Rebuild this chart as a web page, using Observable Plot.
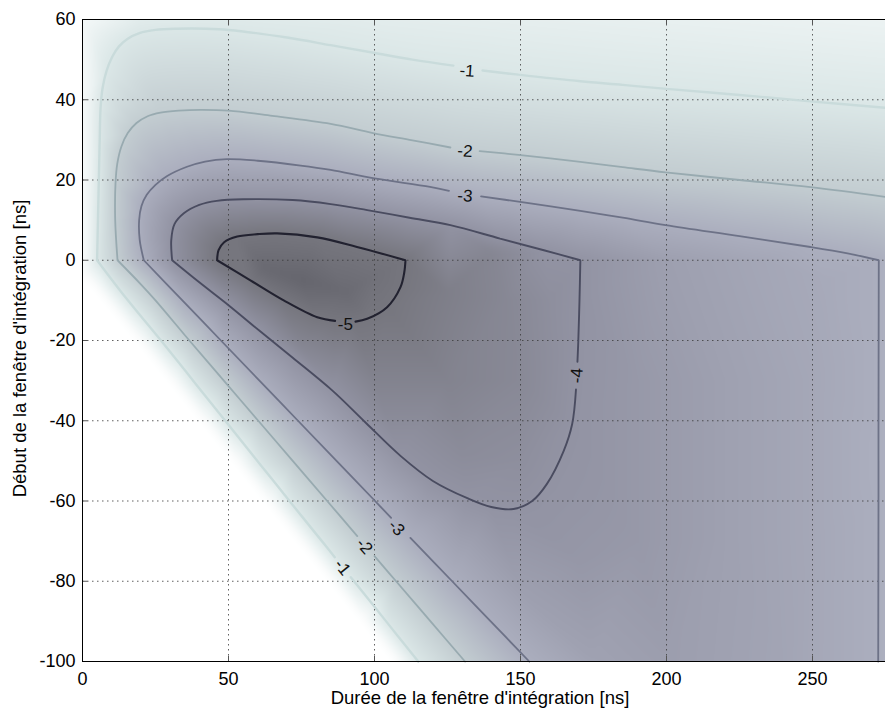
<!DOCTYPE html>
<html><head><meta charset="utf-8">
<script src="https://cdn.jsdelivr.net/npm/d3@7"></script>
<script src="https://cdn.jsdelivr.net/npm/@observablehq/plot@0.6"></script>
<style>body{margin:0;background:#fff}</style>
</head><body><div id="chart"></div>
<script>
// Axis ticks
const xTicks = [0, 50, 100, 150, 200, 250];
const yTicks = [-100, -80, -60, -40, -20, 0, 20, 40, 60];

// Contour levels and their traced paths [durée, début]; null = gap for inline label,
// a repeated point marks a sharp corner
const levels = [-1, -2, -3, -4, -5];
const c1 = [[115,-100],[104,-90],[91.9,-79],null,[86.4,-74],[82,-70],[72,-61],[61,-51],[50,-41],[39,-31],[28,-21],[15,-9.5],[5,0],[5,0],
  [5.3,10],[5.6,20],[5.9,30],[6.2,38],[6.9,43],[8.3,47.3],[10.2,50.7],[12.5,53.3],[15.5,55.2],[19.5,56.6],[25,57.4],[32.5,57.7],[42,57.7],[50,57.4],
  [70,55.5],[85,53.6],[99.7,51.7],[113,50],[127,48.5],null,[137,47.3],[149.3,46.25],[170.5,44.6],[185,43.7],[200,42.7],[225,41.2],[249.3,39.6],[275,38]];
const c2 = [[131,-100],[119.2,-90],[107.4,-80],[100,-73.75],null,[94.1,-68.75],[83.8,-60],[72,-50],[60.2,-40],[48.4,-30],[36.6,-20],[25,-10],[20,-6],[12,0],[12,0],
  [11.2,10],[11.3,19],[11.9,24],[13.3,28.3],[15.5,31.7],[18.5,34.2],[22.3,35.9],[26.7,36.8],[33,37.3],[40.4,37.5],[50,37.3],[65,36],[85,34],[99.5,31.7],[113,29.9],[126,28.1],null,
  [136,27.2],[149.3,26.25],[170.5,24.5],[185,23.2],[199.7,21.9],[225,20],[249.3,18.2],[275,15.8]];
const c3 = [[153,-100],[139.8,-90],[126.6,-80],[112.3,-69.2],null,[105.7,-64.2],[100.2,-60],[87,-50],[73.8,-40],[60.6,-30],[47.4,-20],[34.2,-10],[21,0],[21,0],
  [19.6,5],[19.4,10],[20.2,13.5],[22,16.3],[25,18.8],[29,21],[35.8,23.3],[42,24.6],[49.5,25.2],[60,24.8],[74.7,23.6],[85,22.5],[100,20.4],[119,18.3],[125.5,17.3],null,
  [136.5,15.9],[149.3,14.6],[170.5,12.3],[185,10.6],[199.7,8.75],[225,6],[249.3,3.3],[262,1.7],[272.7,0],[272.7,0],
  [272.65,-20],[272.6,-40],[272.6,-60],[272.55,-80],[272.5,-100]];
const c4 = [[30.7,0],[30.4,5],[31.5,9],[34.7,11.7],[40,13.8],[46,14.8],[55,15.2],[72,15],[85,14],[97.5,12.5],[112,10.6],[126,8.75],[143,5.4],[158,2.5],[170.5,0],[170.5,0],
  [170.2,-10],[169.8,-20],[169.5,-25.3],null,[169,-32.2],[167.7,-40.8],[164.8,-47.5],[159,-55.8],[154,-60],[147.6,-62],[140,-61.5],[131.8,-59.3],[120,-55],
  [108.9,-48.75],[97,-40.5],[85.6,-32.5],[72,-24.3],[60,-17.2],[50,-11.2],[40,-5.5],[30.7,0]];
const c5 = [[46.1,0],[46.6,2.5],[48.5,4.5],[53,5.9],[60,6.5],[66.7,6.7],[80.4,5.7],[94,3.3],[110.6,0],[110.6,0],[110.2,-3],[108.9,-6.7],[104.3,-11.7],[97.5,-14.6],[93.5,-15.3],null,
  [86.5,-15.1],[80.4,-14.2],[68.9,-10],[57.5,-5],[46.1,0]];

// Extra read-off samples of the shaded field [durée, début, valeur]
const whiteZone = [[0,-4,0],[7,-9.5,0],[20,-21,0],[31,-31,0],[42,-41,0],[53,-51,0],[64,-61,0],[74,-70,0],[85,-80,0],[96,-90,0],[107,-100,0],
  [0,-100,0],[0,-50,0],[50,-100,0],[30,-70,0]];
const topLeftZone = [[0,0,-0.1],[0,20,-0.15],[0,40,-0.2],[0,60,-0.3],[20,60,-0.82],[50,60,-0.9],[100,60,-0.8],[150,60,-0.72],[200,60,-0.65],[275,60,-0.55]];
const coreZone = [[62,-2,-5.5],[75,-5,-5.65],[90,-8,-5.45],[100,-4,-5.2],
  [75,-22,-4.4],[100,-30,-4.55],[125,-30,-4.55],[150,-30,-4.35],[130,-48,-4.25],[150,-50,-4.15],[125,-8,-4.7],[145,-10,-4.4],[160,-10,-4.15],[140,2,-4.45]];
const rightZone = [[190,-30,-3.8],[220,-30,-3.5],[250,-30,-3.25],[190,-70,-3.8],[220,-70,-3.5],[250,-70,-3.25],[175,-100,-3.45],[200,-100,-3.6],[240,-100,-3.35],
  [150,-82,-3.55],[170,-75,-3.85],[200,0,-3.55],[230,0,-3.3],[255,-5,-3.15],[275,0,-2.9],[275,-50,-2.95],[275,-100,-2.95]];

// Colour ramp (value -> colour)
const colorStops = [-5.7, -5, -4, -3, -2, -1, -0.5, 0];
const colorRange = ["#64646c", "#76767e", "#9293a3", "#abaebe", "#c3cdd1", "#dbe7e7", "#eef4f4", "#ffffff"];
const lineColors = ["#c9dbdb", "#98aab0", "#6d7287", "#4a4c60", "#222230"];
const lineWidths = [2.4, 1.8, 1.8, 1.9, 2.1];

// Inline contour labels
const labels = [
  {t: "-1", D: 131.7, S: 47.2, r: 4},
  {t: "-2", D: 131, S: 27.2, r: 4},
  {t: "-3", D: 131, S: 16, r: 4},
  {t: "-5", D: 90, S: -15.9, r: 0},
  {t: "-4", D: 169.3, S: -28.75, r: -87},
  {t: "-3", D: 107.5, S: -66.7, r: 46},
  {t: "-2", D: 96.5, S: -71.25, r: 49},
  {t: "-1", D: 89, S: -76.5, r: 51}
];

const contours = [c1, c2, c3, c4, c5];
const seen = new Set();
const samples = [];
function addSample(D, S, v) {
  const k = D + "," + S;
  if (seen.has(k)) return;
  seen.add(k);
  samples.push({D, S, v});
}
contours.forEach((c, i) => c.forEach(p => { if (p) addSample(p[0], p[1], levels[i]); }));
[whiteZone, topLeftZone, coreZone, rightZone].forEach(a => a.forEach(([D, S, v]) => addSample(D, S, v)));

const gridStyle = {stroke: "#3a3a3a", strokeOpacity: 0.8, strokeWidth: 1, strokeDasharray: "1.5,3.5"};
const fmt = d => String(d);

const chart = Plot.plot({
  width: 885, height: 716,
  marginLeft: 82, marginRight: 0, marginTop: 19, marginBottom: 55,
  style: {fontFamily: "'Liberation Sans', Arial, Helvetica, sans-serif", fontSize: "18px", background: "#fff", color: "#000"},
  x: {domain: [0, 275], label: null},
  y: {domain: [-100, 60], label: null},
  color: {type: "linear", domain: colorStops, range: colorRange, interpolate: "rgb", clamp: true},
  marks: [
    Plot.raster(samples, {x: "D", y: "S", fill: "v", interpolate: "barycentric", blur: 3}),
    Plot.gridX(xTicks.slice(1), gridStyle),
    Plot.gridY(yTicks.slice(1, -1), gridStyle),
    ...contours.map((c, i) => Plot.line(c, {
      x: d => d ? d[0] : NaN, y: d => d ? d[1] : NaN, curve: "catmull-rom",
      stroke: lineColors[i], strokeWidth: lineWidths[i], strokeLinejoin: "miter"
    })),
    Plot.text(labels, {x: "D", y: "S", text: "t", rotate: "r", fontSize: 17, fill: "#111"}),
    Plot.ruleX(xTicks.slice(1), {y1: -100, y2: -98.7, stroke: "#555"}),
    Plot.ruleX(xTicks.slice(1), {y1: 58.7, y2: 60, stroke: "#555"}),
    Plot.ruleY(yTicks.slice(1, -1), {x1: 0, x2: 1.8, stroke: "#555"}),
    Plot.ruleX([0], {stroke: "#000"}),
    Plot.ruleY([-100, 60], {stroke: "#000"}),
    Plot.axisX({ticks: xTicks, tickSize: 0, tickPadding: 11, tickFormat: fmt, fontSize: 18, label: null}),
    Plot.axisY({ticks: yTicks, tickSize: 0, tickPadding: 7, tickFormat: fmt, fontSize: 18, label: null}),
    Plot.text(["Durée de la fenêtre d'intégration [ns]"], {frameAnchor: "bottom", lineAnchor: "middle", textAnchor: "middle", dy: 37, dx: -4, fontSize: 18.5, fill: "#000"}),
    Plot.text(["Début de la fenêtre d'intégration [ns]"], {frameAnchor: "left", lineAnchor: "middle", textAnchor: "middle", dx: -62, dy: 8, rotate: -90, fontSize: 18.5, fill: "#000"})
  ]
});
document.getElementById("chart").appendChild(chart);
</script>
</body></html>
